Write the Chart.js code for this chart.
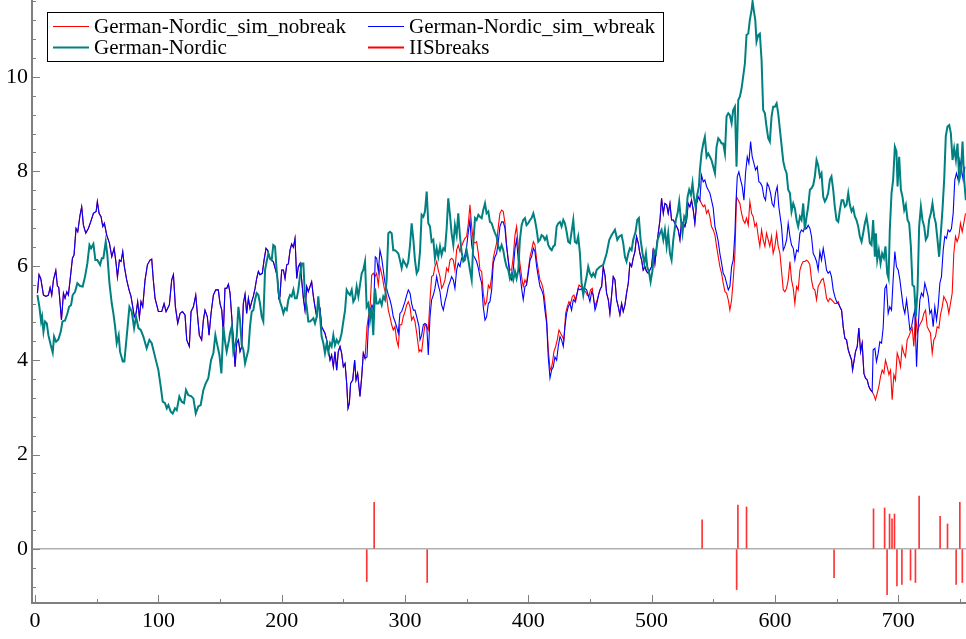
<!DOCTYPE html>
<html><head><meta charset="utf-8">
<script src="https://cdn.jsdelivr.net/npm/chart.js@4.4.1/dist/chart.umd.min.js"></script>
<style>html,body{margin:0;padding:0;background:#fff;}#wrap{width:966px;height:639px;}</style>
</head><body><div id="wrap"><canvas id="c" width="966" height="639"></canvas></div>
<script>
// ---------------- DATA ----------------
const seriesLabels = ['German-Nordic_sim_nobreak', 'German-Nordic_sim_wbreak', 'German-Nordic', 'IISbreaks'];
const xTickLabels = [0, 100, 200, 300, 400, 500, 600, 700];
const yTickLabels = [0, 2, 4, 6, 8, 10];

// both simulations identical before the first break
const simShared1 = [[1.9,5.42],[3.2,5.81],[4.6,5.73],[6.8,5.38],[8.9,5.35],[10.8,5.38],[12.2,5.54],[13.5,5.38],[14.9,5.70],[16.8,5.90],[18.1,5.57],[19.2,5.54],[20.3,5.20],[21.4,4.85],[23,5.42],[24.3,5.31],[25.7,5.45],[27,5.38],[28.4,5.70],[30.3,6.16],[31.6,6.23],[33.2,6.79],[34.6,6.72],[36.5,7.08],[37.8,7.25],[39.2,6.86],[41.1,6.69],[43.2,6.79],[45.1,6.93],[47.3,7.11],[49.5,7.15],[50.5,7.36],[51.9,7.11],[53.5,7.04],[54.9,6.83],[56.2,6.90],[58.1,6.65],[60.3,6.48],[62.2,6.19],[64.1,6.37],[65.7,6.05],[66.8,5.76],[68.4,6.12],[69.7,6.09],[71.1,6.30],[72.4,5.98],[74.3,5.70],[76.2,5.49],[77.8,5.35],[79.2,5.13],[80.5,4.92],[81.9,4.99],[83.2,5.24],[84.6,4.91],[85.9,5.24],[87.3,5.13],[89.2,5.70],[91.1,6.02],[93.2,6.12],[94.6,6.14],[95.9,5.70],[97.3,5.31],[100,5.03],[102.7,5.03],[104.6,5.20],[106.2,5.03],[108.9,5.17],[110.8,5.70],[112.2,5.81],[113.8,5.13],[115.7,4.78],[117.6,4.99],[119.5,5.03],[121.6,4.96],[123,4.43],[125.1,4.29],[126.5,5.03],[128.4,5.13],[130.3,5.38],[131.6,4.99],[133.2,4.53],[135.1,4.43],[136.5,4.85],[137.8,5.06],[139.7,4.92],[141.1,4.53],[142.7,4.99],[144.6,5.38],[146.5,5.49],[148.6,5.49],[150,5.20],
[151.4,5.06],[152.7,4.57],[154,5.52],[155.4,5.52],[156.8,5.61],[158.1,5.42],[159.5,4.92],[160.8,4.43],[162.2,3.86],[163.5,4.36],[164.9,4.43],[166.2,4.18],[167.6,4.29],[168.9,5.20],[170.3,5.40],[171.6,4.99],[173,5.31],[174.3,5.10],[175.7,5.24],[177,5.35],[178.4,5.52],[179.7,5.73],[181.1,5.88],[182.4,5.81],[184.3,5.84],[185.7,6.12],[187.3,6.37],[188.6,6.33],[190.5,6.14],[191.9,6.12],[193.2,6.09],[195.1,5.91],[196.5,5.77],[197.6,5.31],[198.6,5.35],[200,5.91],[201.4,5.91],[202.7,5.73],[204.1,6.02],[205.4,6.04],[206.8,6.33],[208.1,6.46],[209.5,6.39],[210.8,6.58],[212.2,5.73],[213.5,5.98],[214.9,6.05],[216.2,5.70],[217.6,5.31],[218.9,5.06],[220.3,5.56],[221.6,5.45],[223,5.56],[224.3,5.66],[225.7,5.35],[227,5.13],[228.4,4.92],[229.7,5.20],[231.1,5.10],[232.4,4.71],[233.8,4.64],[235.1,4.57],[236.5,4.43],[237.8,4.22],[239.2,4.00],[240.5,4.11],[241.9,3.86],[243.2,4.18],[244.6,3.79],[245.9,4.18],[247.3,4.29],[248.6,4.15],[250,3.86],[251.4,3.93],[252.7,3.51],[253.8,2.98],[254.9,3.09],[255.9,3.51],[257.6,3.58],[259.2,4.00],[260.3,3.58],[261.6,3.72],[263.5,3.23],[264.9,3.65],[266.2,4.15],[267.6,4.04]];

const nobreakPart2 = [[269.2,4.71],[271.9,5.20],[273,5.80],[274.3,5.84],[275.7,5.77],[277,5.84],[278.4,5.59],[279.7,5.98],[281.6,5.77],[283.2,5.52],[285.1,5.35],[286.5,5.06],[287.8,4.92],[289.2,4.75],[290.5,4.64],[291.9,4.71],[293.2,4.43],[294.6,4.29],[295.9,4.75],[297.3,4.75],[298.6,4.92],[300,5.03],[301.4,5.17],[302.7,5.24],[304.1,5.13],[305.4,4.85],[306.8,4.92],[308.1,4.82],[309.5,4.57],[311.4,4.18],
[312.2,4.22],[313.5,4.18],[314.9,4.50],[316.2,4.75],[317.6,4.71],[318.9,4.64],[320.3,5.28],[321.6,5.77],[323,5.80],[324.3,5.98],[325.7,6.09],[327,5.91],[328.4,5.77],[329.7,5.52],[331.1,5.59],[332.4,5.70],[333.8,5.95],[335.1,5.88],[336.5,6.12],[337.8,6.16],[339.2,6.12],[340.5,5.91],[341.9,6.33],[343.2,6.44],[344.6,6.30],[345.9,6.41],[347.3,6.51],[348.6,6.58],[350,6.62],[351.4,6.90],[352.7,7.29],[354.1,6.83],[355.4,6.51],[356.8,6.48],[358.1,6.51],[359.5,6.26],[360.8,5.91],[362.2,5.88],[363.5,5.42],[364.9,5.17],[366.2,5.24],[367.6,5.59],[368.9,5.52],[370.3,5.77],[371.6,6.16],[373,6.33],[374.3,6.48],[375.7,6.83],[377,7.11],[378.4,7.18],[379.7,7.15],[381.1,6.90],[382.4,6.44],[383.8,6.12],[385.1,5.91],[386.5,5.91],[387.8,6.19],[389.2,6.65],[390.5,6.83],[391.9,6.41],[393.2,6.05],[394.6,5.77],[395.9,5.56],[397.3,5.70],[398.6,5.63],[400,5.91],[401.4,6.19],[402.7,6.33],[404.1,6.51],[405.4,6.44],[406.8,6.12],[408.1,5.91],[409.5,5.70],[410.8,5.63],[412.2,5.49],[413.5,5.24],[414.9,4.85],[416.2,4.22],[417.6,3.83],[418.4,3.79],[419.5,3.93],[420.8,4.18],[422.2,4.29],[423.5,4.43],[424.9,4.64],[426.2,4.57],[427.6,4.50],[428.9,4.43],[430.3,4.99],[431.6,5.13],[433,5.24],[434.3,5.20],[435.7,5.35],[437,5.38],[438.4,5.24],[439.7,5.42],[441.1,5.59],[442.4,5.56],[443.8,5.59],[445.1,5.49],[446.5,5.45],[447.8,5.38],[449.2,5.35],[450.5,5.49],[451.9,5.52],[453.2,5.24],[454.6,5.17],[455.9,5.28],[457.3,5.42],[458.6,5.52]];

const wbreakPart2 = [[269.2,4.07],[270.5,4.85],[271.9,5.06],[273.2,5.17],[274.6,5.06],[275.9,6.19],[277,6.16],[278.4,5.88],[279.7,6.33],[281.1,6.16],[282.4,5.91],[283.8,5.63],[285.1,5.52],[286.5,5.38],[287.8,5.28],[289.2,5.13],[290.5,4.92],[291.9,4.82],[293.2,4.71],[294.6,4.57],[295.9,4.99],[297.3,5.03],[298.6,5.13],[300,5.24],[301.4,5.38],[302.7,5.49],[304.1,5.42],[305.4,5.20],[306.8,5.06],[308.1,5.06],[309.5,4.92],[311.4,4.71],
[312.2,4.43],[313.5,4.53],[314.9,4.75],[316.2,4.78],[317.6,4.75],[318.9,4.11],[320.3,4.92],[321.6,5.28],[323,5.38],[324.3,5.52],[325.7,5.77],[327,5.59],[328.4,5.45],[329.7,5.17],[331.1,5.06],[332.4,5.24],[333.8,5.38],[335.1,5.56],[336.5,5.66],[337.8,5.77],[339.2,5.70],[340.5,5.52],[341.9,5.91],[343.2,6.05],[344.6,5.98],[345.9,6.16],[347.3,6.12],[348.6,6.23],[350,6.41],[351.4,6.72],[352.7,6.97],[354.1,6.44],[355.4,6.23],[356.8,6.16],[358.1,6.09],[359.5,5.95],[360.8,5.77],[362.2,5.63],[363.5,5.13],[364.9,4.85],[366.2,4.92],[367.6,5.20],[368.9,5.24],[370.3,5.49],[371.6,6.05],[373,6.19],[374.3,6.26],[375.7,6.51],[377,6.83],[378.4,6.93],[379.7,6.93],[381.1,6.79],[382.4,6.41],[383.8,6.09],[385.1,5.77],[386.5,5.70],[387.8,5.91],[389.2,6.37],[390.5,6.55],[391.9,6.12],[393.2,5.84],[394.6,5.52],[395.9,5.28],[397.3,5.56],[398.6,5.59],[400,5.84],[401.4,6.12],[402.7,6.19],[404.1,6.37],[405.4,6.30],[406.8,5.98],[408.1,5.77],[409.5,5.56],[410.8,5.49],[412.2,5.38],[413.5,5.06],[414.9,4.78],[416.2,4.07],[417.6,3.62],[418.9,3.79],[420.3,3.86],[421.6,4.07],[423,4.00],[424.3,4.29],[425.7,4.50],[427,4.43],[428.4,4.29],[429.7,4.71],[431.1,4.99],[432.4,5.13],[433.8,5.20],[435.1,5.06],[436.5,5.28],[437.8,5.24],[439.2,5.38],[440.5,5.52],[441.9,5.49],[443.2,5.52],[444.6,5.42],[445.9,5.52],[447.3,5.49],[448.6,5.38],[450,5.24],[451.4,5.45],[452.7,5.38],[454.1,5.06],[455.4,5.17],[456.8,5.35],[458.1,5.49]];

const simShared2 = [[459.5,5.56],[460.8,5.98],[462.2,5.80],[463.5,5.42],[464.9,5.28],[466.2,4.99],[467.6,5.38],[468.9,5.77],[470.3,5.70],[471.6,5.28],[473,5.13],[474.3,4.96],[475.7,5.20],[477,5.03],[478.4,5.17],[479.7,5.42],[481.1,5.63],[482.4,6.05],[483.8,5.98],[485.1,6.16],[486.5,6.30],[487.8,6.62],[489.2,6.48],[490.5,6.26],[491.9,6.12],[493.2,5.91],[494.6,5.98],[495.9,5.88],[497.3,5.84],[498.6,5.91],[500,5.98],[501.4,6.37],[502.7,6.05],[504.1,6.41],[505.4,6.69],[506.8,6.97],[508.1,7.43],[509.5,7.11],[510.8,7.32],[512.2,7.29],[513.5,7.11],[514.9,7.32],[516.2,6.97],[517.6,6.97],[518.9,6.90],[520.3,6.83],[521.6,6.76],[523,6.55],[524.3,6.93],[525.7,6.90],[527,6.83],[528.4,6.97],[529.7,7.32],[531.1,7.25],[532.4,7.39],[533.8,7.18],[535.1,6.90],[536.5,7.32],[537.8,7.46],[539.2,7.39]];

const nobreakPart3 = [[540.5,7.32],[541.9,7.25],[543.2,7.29],[544.6,7.11],[545.9,7.18],[547.3,7.04],[548.6,6.83],[550,6.76],[551.4,6.65],[552.7,6.41],[554.1,6.19],[555.4,5.98],[556.8,5.84],[558.1,5.63],[559.5,5.45],[560.8,5.42],[562.2,5.28],[563.5,5.06],[564.9,5.28],[566.2,5.70],[567.6,6.26],[568.9,7.46],[570.3,7.39],[571.6,7.32],[573,7.11],[574.3,6.97],[575.7,6.90],[577,7.01],[578.4,6.86],[579.7,7.36],[581.1,7.11],[582.4,7.04],[583.8,6.83],[585.1,6.90],[586.5,6.62],[587.8,6.41],[589.2,6.76],[590.5,6.55],[591.9,6.41],[593.2,6.69],[594.6,6.55],[595.9,6.41],[597.3,6.62],[598.6,6.26],[600,6.41],[601.4,6.69],[602.7,6.41],[604.1,6.26],
[606.8,5.49],[608.1,5.45],[609.5,5.52],[610.8,5.70],[612.2,6.09],[613.5,5.70],[614.9,5.52],[616.2,5.20],[617.6,5.56],[618.9,5.49],[620.3,5.91],[621.6,6.02],[623,6.09],[624.3,6.09],[625.7,6.12],[627,6.09],[628.4,6.02],[629.7,5.70],[631.1,5.52],[632.4,5.49],[633.8,5.28],[635.1,5.56],[636.5,5.63],[637.8,5.70],[639.2,5.73],[640.5,5.56],[641.9,5.31],[643.2,5.24],[644.6,5.31],[645.9,5.28],[647.3,5.24],[648.6,5.20],[650,5.20],[651.4,5.24],[652.7,5.13]];

const wbreakPart3 = [[540.5,7.92],[541.9,7.78],[543.2,7.82],[544.6,7.68],[545.9,7.61],[547.3,7.54],[548.6,7.39],[550,7.22],[551.4,6.83],[552.7,6.69],[554.1,6.51],[555.4,6.26],[556.8,6.05],[558.1,5.84],[559.5,5.77],[560.8,5.63],[562.2,5.49],[563.5,5.56],[564.9,5.98],[566.2,6.12],[567.6,6.69],[568.4,7.32],[569.5,7.89],[570.8,7.99],[572.2,7.82],[573.5,7.68],[574.9,7.39],[576.2,7.96],[577.6,8.31],[578.9,8.17],[580.3,8.63],[581.6,8.31],[583,8.17],[584.3,8.03],[585.7,8.10],[587,7.78],[588.4,7.75],[589.7,7.68],[591.1,7.46],[592.4,7.39],[593.8,7.75],[595.1,7.68],[596.5,7.54],[597.8,7.32],[599.2,7.25],[600.5,7.54],[601.9,7.68],[603.2,7.25],
[605.4,6.83],[606.8,6.33],[608.1,6.41],[609.5,6.55],[610.8,6.90],[612.2,6.62],[613.5,6.44],[614.9,6.37],[616.2,6.12],[617.6,6.33],[618.9,6.30],[620.3,6.69],[621.6,6.76],[623,6.72],[624.3,6.83],[625.7,6.79],[627,6.86],[628.4,6.79],[629.7,6.62],[631.1,6.26],[632.4,6.19],[633.8,6.09],[635.1,5.91],[636.5,6.30],[637.8,6.12],[639.2,6.37],[640.5,6.16],[641.9,5.91],[643.2,5.84],[644.6,5.88],[645.9,5.77],[647.3,5.49],[648.6,5.35],[650,5.24],[651.4,5.20],[652.7,5.13]];

const simShared3 = [[654.1,5.06],[655.4,4.71],[656.8,4.46],[658.1,4.43],[659.5,4.22],[660.8,4.11],[662.2,4.00],[663,3.79],[664.1,3.97],[665.4,4.18],[666.8,4.29],[668.1,4.68],[669.5,4.18],[670.8,4.36],[672.2,3.72],[673.5,3.62],[674.9,3.58],[676.2,3.44],[677.6,3.37],[678.9,3.33]];

const nobreakPart4 = [[680.3,3.26],[681.6,3.16],[683,3.30],[684.3,3.44],[685.7,3.65],[687,3.79],[688.4,3.72],[689.7,4.00],[691.1,3.86],[692.5,3.69],[693.8,3.79],[695.1,3.16],[696.5,3.69],[697.8,3.58],[699.2,4.15],[700.5,4.04],[701.9,3.86],[703.2,4.29],[704.6,4.15],[705.9,4.07],[707.3,4.43],[708.6,4.50],[710,4.60],[711.4,4.68],[712.7,4.29],[714.1,4.99],[715.4,4.57],[716.8,4.71],[718.1,4.78],[719.5,4.85],[720.8,4.99],[722.2,5.06],[723.5,4.71],[724.9,4.64],[726.2,4.57],[727.6,4.15],[728.9,4.43],[730.3,4.50],[731.6,4.71],[733,4.68],[734.3,4.96],[735.7,5.13],[737,5.35],[738.4,5.28],[739.7,5.20],[741.1,4.99],[742.4,5.20],[743.8,5.42],[745.1,6.26],[746.5,6.62],[747.8,6.51],[749.2,6.62],[750.5,6.90],[751.9,6.72],[753.2,6.90],[754.6,7.11]];

const wbreakPart4 = [[679.7,4.22],[681.1,4.25],[682.4,3.97],[683.8,4.15],[685.1,4.39],[686.5,4.36],[687.8,4.68],[689.2,5.52],[690.5,5.59],[691.9,4.99],[693.2,5.13],[694.6,5.06],[695.9,5.70],[697.3,6.30],[698.6,5.98],[700,5.91],[701.4,5.70],[702.7,5.42],[704.1,5.13],[705.4,4.99],[706.8,5.28],[708.1,4.99],[709.5,4.64],[710.9,4.71],[712.2,4.92],[713.5,5.06],[714.9,3.86],[716.2,4.71],[717.6,5.28],[718.9,5.42],[720.3,5.35],[721.6,5.63],[723,5.49],[724.3,5.35],[725.7,4.99],[727,5.06],[728.4,4.71],[729.7,5.13],[731.1,4.85],[732.4,5.13],[733.8,5.63],[735.1,5.77],[736.5,6.33],[737.8,6.62],[739.2,6.58],[740.5,6.76],[741.9,6.72],[743.2,6.79],[744.6,7.11],[745.9,7.82],[747.3,7.96],[748.6,7.82],[750,8.24],[751.4,8.03],[752.7,7.82],[754.1,8.10]];

const germanNordic = [[1.9,5.38],[3.5,5.13],[4.9,4.82],[5.7,4.92],[6.8,4.60],[8.1,4.82],[9.5,4.78],[10.8,4.53],[12.7,4.32],[14.3,4.16],[15.4,4.50],[17,4.39],[18.9,4.44],[20.8,4.60],[22.2,4.82],[24.3,4.84],[26.2,4.99],[27.6,5.13],[29.2,5.17],[30.5,5.38],[32.4,5.45],[34.3,5.63],[36.5,5.57],[38.6,5.56],[40.5,5.77],[42.4,6.05],[44.1,6.44],[45.4,6.37],[47.3,6.46],[48.9,6.12],[50.5,6.12],[52.7,6.02],[54.1,6.16],[55.4,6.16],[57.3,6.51],[58.6,6.23],[60.3,5.63],[62.2,5.20],[63.5,4.99],[64.9,4.71],[66.2,4.36],[67.8,4.53],[68.9,4.18],[71.1,3.97],[72.4,3.97],[74.3,4.50],[76.5,5.13],[78.4,5.03],[80.3,4.68],[81.9,4.92],[83.8,4.68],[85.7,4.64],[87.8,4.50],[90.5,4.25],[92.7,4.43],[94.6,4.36],[97.3,4.07],[100,3.79],[101.9,3.44],[103.5,3.12],[105.4,3.09],[106.8,2.98],[108.1,3.05],[110,2.91],[111.6,2.87],[113.5,2.98],[114.9,2.94],[117,3.23],[118.9,3.12],[120.8,3.09],[122.4,3.37],[124.3,3.26],[126.5,3.24],[128.4,3.19],[130.3,2.87],[132.4,3.02],[134.3,3.05],[136.5,3.37],[138.4,3.51],[140.5,3.62],[142.7,4.00],[144.6,4.15],[146.2,4.53],[147.8,4.32],[149.5,4.11],[151.1,3.72],[152.7,4.71],[154.1,4.39],[155.4,4.18],[157.3,4.43],
[158.1,4.57],[159.5,4.71],[160.8,4.18],[162.2,4.32],[163.5,4.50],[164.9,5.13],[166.2,4.85],[167.6,4.32],[168.9,4.22],[170.3,3.93],[171.6,4.07],[173,4.22],[174.3,4.71],[175.7,5.03],[177,5.06],[178.4,5.28],[179.7,5.42],[181.1,5.38],[182.4,5.20],[183.8,4.92],[185.1,4.82],[186.5,5.91],[187.8,6.09],[189.2,6.26],[190.5,6.16],[191.9,6.12],[193.2,6.44],[194.6,6.41],[195.9,5.91],[197.3,5.49],[198.6,5.24],[200,5.13],[201.4,4.99],[202.7,5.10],[204.1,5.06],[205.4,5.28],[206.8,5.38],[208.1,5.35],[209.5,5.49],[210.8,5.31],[212.2,5.31],[213.5,5.49],[214.9,5.80],[216.2,6.05],[217.6,6.05],[218.9,5.35],[220.3,5.13],[221.6,4.82],[223,4.82],[224.3,4.85],[225.7,4.89],[227,4.78],[228.4,4.92],[229.7,5.35],[231.1,4.92],[232.4,4.50],[233.8,4.36],[235.1,4.15],[236.5,4.36],[237.8,4.18],[239.2,4.36],[240.5,4.29],[241.9,4.53],[243.2,4.32],[244.6,4.43],[245.9,4.36],[247.3,4.43],[248.6,4.57],[250,4.82],[251.4,5.06],[252.7,5.49],[254.1,5.42],[255.4,5.38],[256.8,5.49],[258.1,5.24],[259.5,5.31],[260.8,5.56],[262.2,5.35],[263.5,5.59],[264.9,5.84],[266.2,5.91],[267.6,6.09],[268.9,5.13],[270.3,5.20],[271.6,4.85],[273,5.13],[274.3,4.53],[275.7,5.52],[277,5.20],[278.4,5.20],[279.7,5.28],[281.1,5.17],[282.4,5.35],[283.8,5.28],[285.1,5.70],[286.5,6.69],[287.8,6.72],[289.2,6.69],[290.5,6.33],[291.9,6.33],[293.2,6.30],[294.6,6.26],[295.9,6.12],[297.3,5.95],[298.6,6.12],[300,6.05],[301.4,5.98],[302.7,6.09],[304.1,6.44],[305.4,6.90],
[306.8,6.55],[308.1,6.12],[309.5,5.84],[310.8,5.91],[312.2,6.30],[313.5,7.08],[314.9,7.04],[316.2,7.15],[317.6,7.57],[318.9,6.90],[320.3,6.83],[321.6,6.51],[323,6.55],[324.3,6.16],[325.7,6.37],[327,6.19],[328.4,6.41],[329.7,6.23],[331.1,6.37],[332.4,6.33],[333.8,6.79],[335.1,7.43],[336.5,7.08],[337.8,6.69],[339.2,6.44],[340.5,6.86],[341.9,6.65],[343.2,7.11],[344.6,6.62],[345.9,6.30],[347.3,6.09],[348.6,6.12],[350,6.33],[351.4,6.12],[352.7,5.91],[354.1,5.70],[355.4,6.48],[356.8,7.01],[358.1,6.97],[359.5,7.08],[360.8,7.04],[362.2,7.01],[363.5,7.18],[364.9,7.32],[366.2,7.11],[367.6,7.15],[368.9,6.93],[370.3,6.90],[371.6,6.79],[373,6.69],[374.3,6.62],[375.7,6.41],[377,6.33],[378.4,6.44],[379.7,6.33],[381.1,6.12],[382.4,5.98],[383.8,5.91],[385.1,5.73],[386.5,5.84],[387.8,5.70],[389.2,5.88],[390.5,5.73],[391.9,5.91],[393.2,6.55],[394.6,6.86],[395.9,6.97],[397.3,7.01],[398.6,6.86],[400,6.90],[401.4,6.97],[402.7,7.01],[404.1,7.11],[405.4,6.97],[406.8,6.76],[408.1,6.51],[409.5,6.55],[410.8,6.65],[412.2,6.62],[413.5,6.55],[414.9,6.62],[416.2,6.44],[417.6,6.37],[419,6.33],[420.3,6.41],[421.6,6.44],[423,6.83],[424.3,6.90],[425.7,6.93],[427,6.83],[428.4,6.97],[429.7,6.90],[431.1,6.72],[432.4,6.51],[433.8,6.48],[435.1,6.72],[436.5,6.97],[437.8,6.51],[439.2,6.48],[440.5,6.62],[441.9,6.26],[443.2,5.63],[444.6,5.38],[445.9,5.59],[447.3,5.77],[448.6,5.98],[450,5.84],[451.4,5.77],[452.7,5.84],[454.1,5.77],[455.4,5.91],[456.8,5.95],
[458.1,5.98],[460.8,6.02],[463.5,6.26],[465.7,6.55],[467.6,6.65],[470.3,6.76],[472.2,6.55],[473.8,6.62],[475.7,6.65],[477,6.48],[478.4,6.19],[479.7,6.09],[481.1,6.26],[482.4,6.37],[483.8,6.33],[485.1,6.55],[487,6.72],[488.4,6.97],[489.7,7.01],[491.1,6.55],[492.7,6.26],[494.1,6.05],[495.4,6.26],[496.5,5.98],[498.1,5.84],[499.2,5.66],[500.8,5.91],[501.9,6.33],[503.5,6.26],[504.9,6.55],[506.8,6.69],[508.1,6.76],[509.5,6.55],[510.8,6.76],[512.2,6.41],[513.5,6.69],[514.9,6.26],[516.2,6.12],[517.6,6.55],[519.7,6.97],[521.1,7.11],[522.4,7.36],[523.8,6.97],[525.1,6.69],[526.5,7.04],[527.8,6.97],[529.2,7.46],[530.5,7.61],[531.9,7.50],[533.2,7.75],[534.3,7.46],[535.7,7.25],[537,7.50],[538.4,7.68],[539.2,8.03],[540.5,8.38],[541.9,8.59],[543.2,8.73],[544.6,8.31],[545.9,8.38],[547.3,8.31],[548.6,8.24],[550,8.10],[551.4,7.96],[552.7,8.52],[554.1,8.70],[555.4,8.66],[556.8,8.59],[558.1,8.59],[559.5,8.38],[560.8,9.16],[562.2,9.23],[563.5,9.19],[564.9,9.02],[566.2,9.30],[567.6,9.37],[568.9,8.10],[570.3,9.51],[571.6,9.58],[573,9.76],[574.3,10.01],[575.7,10.29],[577,10.89],[578.4,10.92],[579.7,11.21],[581.1,11.42],[581.9,11.60],[583,11.39],[584.1,11.21],[585.1,10.75],[586.5,10.89],[587.8,10.92],[589.2,10.36],[590.5,9.30],[591.9,9.23],[593.2,8.95],[594.6,8.70],[595.9,8.63],[597.3,9.16],[598.6,9.37],[600,9.37],[601.4,9.44],[602.7,9.23],[604.1,8.88],
[606.8,8.21],[608.1,8.06],[609.5,7.96],[610.8,7.61],[612.2,7.54],[613.5,7.15],[614.9,7.32],[616.2,7.22],[617.6,6.97],[618.9,6.83],[620.3,7.04],[621.6,6.97],[623,7.32],[624.3,6.76],[625.7,7.04],[627,7.25],[628.4,7.61],[629.7,7.64],[631.1,7.71],[632.4,7.89],[633.8,8.24],[635.1,8.13],[636.5,7.89],[637.8,7.96],[639.2,7.46],[640.5,7.36],[641.9,7.43],[643.2,7.54],[644.6,7.82],[645.9,7.89],[647.3,7.61],[648.6,7.25],[650,6.97],[651.4,6.93],[652.7,7.18],[654.1,7.39],[655.4,7.39],[656.8,7.25],[658.1,7.29],[659.5,7.54],[660.8,7.29],[662.2,7.15],[663.5,7.22],[664.9,7.04],[666.2,6.97],[667.6,6.83],[668.9,6.62],[670.3,6.51],[671.6,6.69],[673,6.90],[674.3,7.04],[675.7,6.79],[677,6.48],[678.4,6.44],[679.7,6.97],[681.1,6.19],[681.9,6.69],[683,6.12],[684.3,6.33],[685.7,6.05],[687,6.26],[688.4,6.16],[689.7,6.41],[691.1,5.84],[692.2,5.73],[693.2,6.76],[694.6,7.54],[695.9,7.82],[697.3,8.52],[698.6,8.42],[699.5,7.68],[700.8,8.31],[702.2,7.61],[703.5,7.46],[704.9,7.18],[706.2,7.29],[707.6,6.97],[708.9,6.90],[710.3,6.41],[711.6,5.59],[713,5.56],[714.3,4.92],[715.7,5.49],[717,6.83],[718.4,7.25],[719.7,6.97],[721.1,6.83],[722.4,6.55],[723.8,6.62],[725.1,6.97],[726.5,7.11],[727.8,7.32],[729.2,7.04],[730.5,6.90],[731.9,6.55],[733.2,6.19],[734.6,6.69],[735.9,7.18],[737.3,7.82],[738.6,8.74],[740,8.95],[741.4,8.98],[742.7,8.81],[744.1,8.24],[745.4,8.49],[746.8,8.24],[748.1,8.59],[749.5,7.82],[750.8,7.96],[752.2,8.63],[753.5,7.82],[754.9,7.39]];

// IIS break indicators: observation and size
const breakObs  = [269, 275, 318, 541, 569, 570, 577, 648, 680, 689, 691, 693, 695, 697, 699, 703, 710, 714, 717, 734, 740, 747, 750, 752];
const breakSize = [-0.69, 0.99, -0.71, 0.62, -0.86, 0.93, 0.89, -0.61, 0.85, 0.87, -0.97, 0.74, 0.64, 0.74, -0.78, -0.75, -0.66, -0.71, 1.12, 0.69, 0.53, -0.75, 0.99, -0.71];

// ---------------- BUILD ----------------
const toXY = arr => arr.map(p => ({x: p[0], y: p[1]}));
const nobreak = [].concat(simShared1, nobreakPart2, simShared2, nobreakPart3, simShared3, nobreakPart4);
const wbreak  = [].concat(simShared1, wbreakPart2, simShared2, wbreakPart3, simShared3, wbreakPart4);
const breaks = breakObs.map((o, i) => ({x: o, y: breakSize[i]}));

const FONT = "'Liberation Serif', 'Times New Roman', serif";
const AXIS_COLOR = '#7f7f7f';

const insideTicks = {
  id: 'insideTicks',
  afterDraw(chart) {
    const {ctx, chartArea: a, scales: {x, y}} = chart;
    ctx.save();
    ctx.strokeStyle = AXIS_COLOR;
    ctx.lineWidth = 1;
    ctx.beginPath();
    for (let k = 0; k * 50 <= x.max; k++) {
      const px = Math.round(x.getPixelForValue(k * 50)) + 0.5;
      const len = (k % 2 === 0) ? 8 : 4;
      ctx.moveTo(px, a.bottom); ctx.lineTo(px, a.bottom - len);
    }
    for (let k = Math.ceil(y.min / 0.4); k * 0.4 <= y.max; k++) {
      const py = Math.round(y.getPixelForValue(k * 0.4)) + 0.5;
      const len = (k % 5 === 0) ? 8 : 4;
      ctx.moveTo(a.left, py); ctx.lineTo(a.left + len, py);
    }
    ctx.stroke();
    ctx.restore();
  }
};

const boxLegend = {
  id: 'boxLegend',
  afterDraw(chart) {
    const ctx = chart.ctx;
    const ds = chart.data.datasets;
    const slots = [[53, 26], [368, 26], [53, 47], [368, 47]];
    ctx.save();
    ctx.fillStyle = '#fff';
    ctx.fillRect(47, 12, 616, 49);
    ctx.strokeStyle = '#000';
    ctx.lineWidth = 1;
    ctx.strokeRect(47.5, 12.5, 616, 49);
    ctx.font = '21px ' + FONT;
    ctx.textBaseline = 'middle';
    ds.forEach((d, i) => {
      const [lx, ly] = slots[i];
      ctx.strokeStyle = d.legendColor;
      ctx.lineWidth = d.legendWidth;
      ctx.beginPath(); ctx.moveTo(lx, ly + 0.5); ctx.lineTo(lx + 36, ly + 0.5); ctx.stroke();
      ctx.fillStyle = '#000';
      ctx.fillText(d.label, lx + 41, ly + 1);
    });
    ctx.restore();
  }
};

new Chart(document.getElementById('c'), {
  type: 'line',
  data: {
    datasets: [
      {label: seriesLabels[0], data: toXY(nobreak), borderColor: '#ff0000', borderWidth: 1.1, pointRadius: 0, tension: 0, order: 3, legendColor: '#ff0000', legendWidth: 1},
      {label: seriesLabels[1], data: toXY(wbreak), borderColor: '#0000ff', borderWidth: 1.1, pointRadius: 0, tension: 0, order: 2, legendColor: '#0000ff', legendWidth: 1},
      {label: seriesLabels[2], data: toXY(germanNordic), borderColor: '#008080', borderWidth: 2, pointRadius: 0, tension: 0, order: 1, legendColor: '#008080', legendWidth: 2},
      {type: 'bar', label: seriesLabels[3], data: breaks, backgroundColor: 'rgba(255,0,0,0.8)', borderWidth: 0, barThickness: 1, order: 4, legendColor: '#ff0000', legendWidth: 2}
    ]
  },
  options: {
    responsive: false,
    animation: false,
    events: [],
    layout: {padding: 0},
    plugins: {legend: {display: false}, tooltip: {enabled: false}},
    scales: {
      x: {
        type: 'linear', min: -2.5, max: 755, offset: false,
        grid: {display: false, drawTicks: false},
        border: {display: true, color: AXIS_COLOR, width: 2},
        ticks: {stepSize: 100, color: '#000', font: {family: FONT, size: 22}, padding: 5, maxRotation: 0, autoSkip: false},
        afterBuildTicks: s => { s.ticks = xTickLabels.map(v => ({value: v})); },
        afterFit: s => { s.height = 36; s.paddingLeft = 0; s.paddingRight = 0; }
      },
      y: {
        type: 'linear', min: -1.144, max: 11.63,
        grid: {display: true, drawTicks: false, drawOnChartArea: true,
               color: c => (c.tick && c.tick.value === 0) ? '#b0b0b0' : 'rgba(0,0,0,0)', lineWidth: 1.5},
        border: {display: true, color: AXIS_COLOR, width: 2},
        ticks: {stepSize: 2, color: '#000', font: {family: FONT, size: 22}, padding: 4},
        afterBuildTicks: s => { s.ticks = yTickLabels.map(v => ({value: v})); },
        afterFit: s => { s.width = 32; s.paddingTop = 0; s.paddingBottom = 0; }
      }
    }
  },
  plugins: [insideTicks, boxLegend]
});
</script>
</body></html>
